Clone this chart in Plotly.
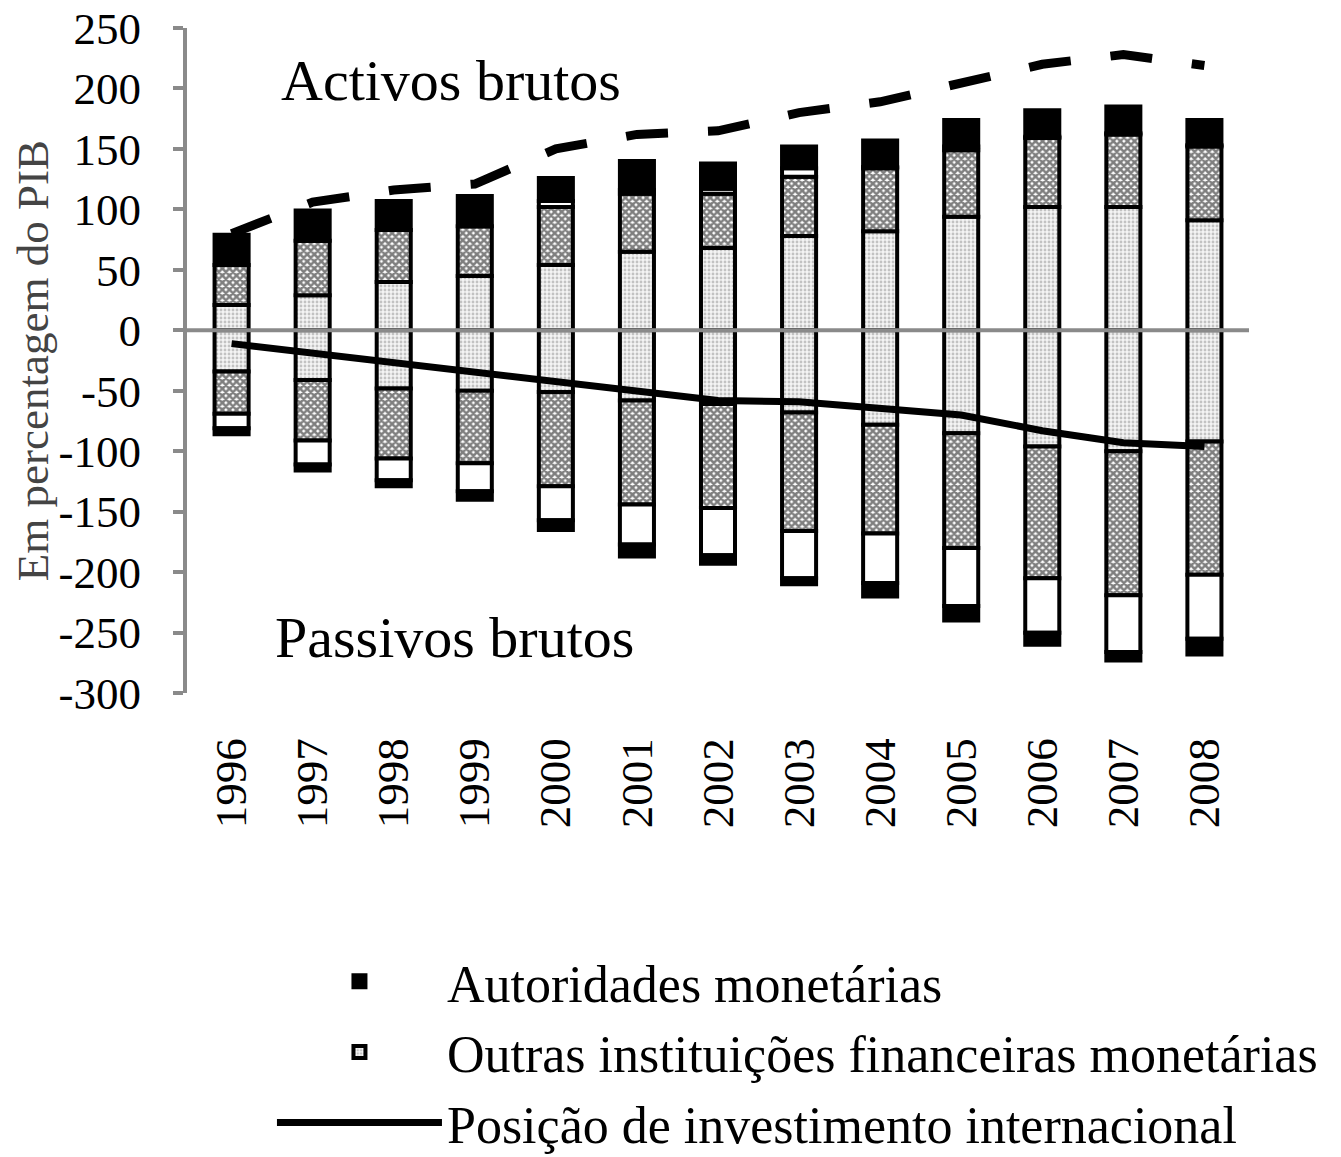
import plotly.graph_objects as go

years = ["1996", "1997", "1998", "1999", "2000", "2001", "2002",
         "2003", "2004", "2005", "2006", "2007", "2008"]

# Activos brutos (assets), by sector, % of GDP
outras_ifm_activos = [21, 29, 40, 45, 54, 65, 68, 78, 82, 94, 102, 102, 91]
hatched_activos = [33, 45, 43, 41, 48, 48, 45, 49, 52, 55, 57, 60, 61]
white_activos = [0, 0, 0, 0, 5, 3, 4, 7, 1, 3, 1, 1, 1]
autoridades_activos = [25, 25, 24, 25, 19, 24, 21, 18, 22, 22, 22, 22, 21]

# Passivos brutos (liabilities), by sector, % of GDP
outras_ifm_passivos = [-34, -41, -48, -50, -51, -58, -61, -68, -78, -85, -96, -100, -92]
hatched_passivos = [-35, -50, -58, -60, -78, -86, -86, -98, -90, -95, -109, -119, -110]
white_passivos = [-12, -20, -18, -23, -28, -33, -39, -39, -41, -48, -45, -47, -53]
autoridades_passivos = [-5, -5, -5, -7, -8, -10, -7, -5, -11, -12, -10, -7, -13]

# Lines
activos_brutos_total = [80, 106, 116, 121, 150, 162, 165, 180, 189, 205, 220, 228, 219]
posicao_investimento = [-11, -19, -26, -34, -42, -50, -58, -59, -64, -70, -83, -93, -96]

y_ticks = [250, 200, 150, 100, 50, 0, -50, -100, -150, -200, -250, -300]

FONT = "Liberation Serif"
GRAY = "#8a8a8a"
BAR_W = 0.42
OUTLINE = dict(color="black", width=4)

dotted = dict(shape=".", fgcolor="#8f8f8f", bgcolor="#f4f4f4", size=4, solidity=0.4)
hatched = dict(shape="x", fgcolor="black", bgcolor="white", size=5, solidity=0.75)

fig = go.Figure()

def add_bar(vals, name, color, pattern=None, showlegend=False, rank=None):
    marker = dict(color=color, line=OUTLINE)
    if pattern is not None:
        marker["pattern"] = pattern
    kw = {}
    if rank is not None:
        kw["legendrank"] = rank
    fig.add_trace(go.Bar(x=years, y=vals, name=name, marker=marker, width=BAR_W,
                         showlegend=showlegend, legendgroup=name, **kw))

add_bar(outras_ifm_activos, "Outras instituições financeiras monetárias", "white", dotted, True, 2)
add_bar(outras_ifm_passivos, "Outras instituições financeiras monetárias", "white", dotted)
add_bar(hatched_activos, "Administrações públicas", "white", hatched)
add_bar(hatched_passivos, "Administrações públicas", "white", hatched)
add_bar(white_activos, "Outros sectores", "white")
add_bar(white_passivos, "Outros sectores", "white")
add_bar(autoridades_activos, "Autoridades monetárias", "black", None, True, 1)
add_bar(autoridades_passivos, "Autoridades monetárias", "black")

fig.add_trace(go.Scatter(x=years, y=activos_brutos_total, mode="lines",
                         name="Activos brutos",
                         line=dict(color="black", width=9, dash="42px,40px"),
                         showlegend=False))
fig.add_trace(go.Scatter(x=years, y=posicao_investimento, mode="lines",
                         name="Posição de investimento internacional",
                         line=dict(color="black", width=7),
                         legendrank=3, legendgroup="pii"))

fig.add_shape(type="line", xref="paper", x0=0, x1=1, yref="y", y0=0, y1=0,
              line=dict(color=GRAY, width=4), layer="above")

fig.add_annotation(text="Activos brutos", xref="paper", x=0.249, xanchor="center",
                   yref="y", y=207, showarrow=False,
                   font=dict(family=FONT, size=58, color="black"))
fig.add_annotation(text="Passivos brutos", xref="paper", x=0.252, xanchor="center",
                   yref="y", y=-254, showarrow=False,
                   font=dict(family=FONT, size=58, color="black"))

fig.update_layout(
    width=1341, height=1157,
    margin=dict(l=179, r=100, t=20, b=0, autoexpand=False),
    paper_bgcolor="white", plot_bgcolor="white",
    barmode="relative",
    font=dict(family=FONT, size=45, color="black"),
    legend=dict(x=0.08, y=0.197, xanchor="left", yanchor="top",
                font=dict(family=FONT, size=52, color="black"),
                tracegroupgap=0, itemwidth=165, bgcolor="rgba(0,0,0,0)"),
)
fig.update_xaxes(
    range=[-0.55, 12.55], showline=False, showgrid=False, zeroline=False,
    tickangle=-90, ticks="", ticklabelstandoff=35, automargin=False,
    tickfont=dict(family=FONT, size=45, color="black"),
)
fig.update_yaxes(
    domain=[0.415, 1.0],
    range=[-300, 250], tickvals=y_ticks, ticktext=[str(v) for v in y_ticks],
    showline=True, linecolor=GRAY, linewidth=4,
    ticks="outside", ticklen=10, tickwidth=4, tickcolor=GRAY,
    showgrid=False, zeroline=False, automargin=False, ticklabelstandoff=23,
    ticklabeloverflow="allow",
    tickfont=dict(family=FONT, size=45, color="black"),
    title=dict(text="Em percentagem do PIB", font=dict(family=FONT, size=45, color="#444"),
               standoff=20),
)

fig.write_html("out.html")
